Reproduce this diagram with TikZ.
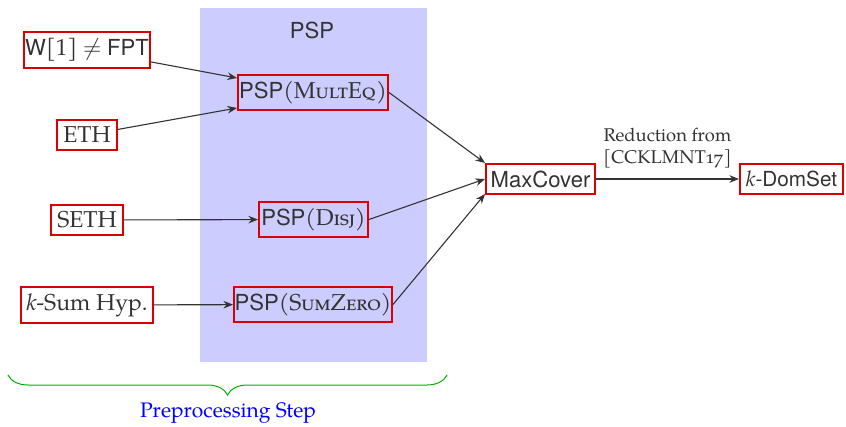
\documentclass[tikz,border=0pt]{standalone}
\usepackage{fontspec}
\setmainfont{TeX Gyre Pagella}
\newfontfamily\sff{TeX Gyre Heros}[Scale=0.96]
\usetikzlibrary{arrows.meta,decorations.pathreplacing}

\begin{document}
\begin{tikzpicture}[x=0.5pt,y=-0.5pt,
  every node/.style={text=black!80},
  box/.style={draw=red!85!black, line width=1pt, inner sep=0pt,
              font=\fontsize{11.5}{13}\selectfont},
  conn/.style={draw=black!80, line width=0.55pt,
               -{Stealth[length=4.8pt,width=3.8pt]}},
  brace/.style={draw=green!70!black, line width=0.5pt,
                decorate, decoration={brace, mirror, amplitude=10pt}}
]
\useasboundingbox (0,0) rectangle (846,427);

% preprocessing region
\fill[blue!20] (200,8) rectangle (427,362);
\node[font=\sff\fontsize{11.5}{13}\selectfont] (regiontitle) at (312,30) {PSP};

% hypotheses
\node[box, fill=white, minimum width=63pt, minimum height=18pt] (w1) at (87,50)
  {{\sff W}[1] $\neq$ {\sff FPT}};
\node[box, fill=white, minimum width=30pt, minimum height=15pt] (eth) at (87,135) {ETH};
\node[box, fill=white, minimum width=36pt, minimum height=15pt] (seth) at (87,220) {SETH};
\node[box, fill=white, minimum width=66pt, minimum height=18pt] (ksum) at (87,305)
  {\textit{k}-Sum Hyp.};

% preprocessed problems
\node[box, minimum width=75pt, minimum height=17.5pt] (multeq) at (313,92.5)
  {{\sff PSP}(\textsc{MultEq})};
\node[box, minimum width=54.5pt, minimum height=17.5pt] (disj) at (313.5,219.5)
  {{\sff PSP}(\textsc{Disj})};
\node[box, minimum width=79pt, minimum height=17.5pt] (sumzero) at (313,304.5)
  {{\sff PSP}(\textsc{SumZero})};

% targets
\node[box, minimum width=54.5pt, minimum height=15pt] (maxc) at (540.5,179)
  {\sff MaxCover};
\node[box, minimum width=51.5pt, minimum height=15pt,
      font=\fontsize{10.8}{13}\selectfont] (domset) at (791.5,179)
  {\textit{k}{\sff -DomSet}};

% connectors
\draw[conn] (w1) -- ([yshift=-2pt]multeq.north west);
\draw[conn] (eth) -- ([yshift=1.5pt]multeq.south west);
\draw[conn] (seth) -- (disj);
\draw[conn] (ksum) -- (sumzero);
\draw[conn] (multeq.east) -- (maxc.north west);
\draw[conn] (disj.east) -- (maxc.west);
\draw[conn] (sumzero.east) -- ([yshift=0.5pt]maxc.south west);
\draw[conn] (maxc) -- node[above=2pt, align=center, font=\fontsize{9.2}{11}\selectfont]
  (redlabel) {Reduction from\\{}[CCKLMNT{\addfontfeatures{Numbers=OldStyle}17}]} (domset);

% brace under the preprocessing step
\draw[brace] (8,375) -- (447,375);
\node[text=blue, font=\fontsize{10.5}{12}\selectfont] (steplabel) at (228,413)
  {Preprocessing Step};
\end{tikzpicture}
\end{document}
